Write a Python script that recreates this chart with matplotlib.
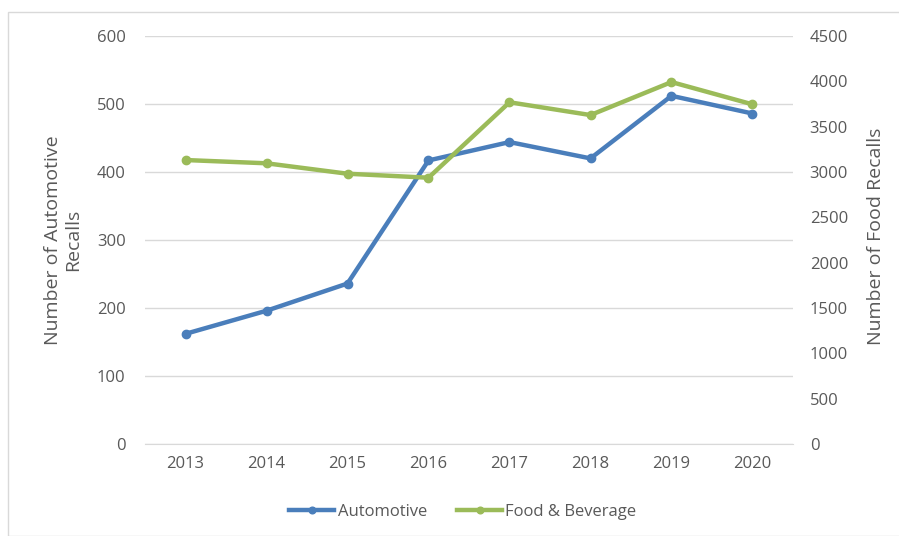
import matplotlib
matplotlib.use("Agg")
import matplotlib.pyplot as plt
from matplotlib.patches import Rectangle

years = ["2013", "2014", "2015", "2016", "2017", "2018", "2019", "2020"]
automotive = [162, 196, 236, 417, 444, 420, 512, 486]
food = [3132, 3096, 2981, 2937, 3769, 3628, 3992, 3746]

plt.rcParams['font.family'] = ['Open Sans', 'DejaVu Sans']
txt = '#595959'
blue = '#4A7EBB'
green = '#9BBB59'

fig = plt.figure(figsize=(8.99, 5.36), dpi=100)
ax = fig.add_axes([145/899, 1-444/536, (793-145)/899, (444-36)/536])
ax2 = ax.twinx()

x = list(range(len(years)))
l1, = ax.plot(x, automotive, color=blue, lw=3.2, marker='o', ms=6, label='Automotive', zorder=3)
l2, = ax2.plot(x, food, color=green, lw=3.2, marker='o', ms=6, label='Food & Beverage', zorder=3)

ax.set_xlim(-0.5, len(years)-0.5)
ax.set_ylim(0, 600)
ax2.set_ylim(0, 4500)
ax.set_yticks(range(0, 601, 100))
ax2.set_yticks(range(0, 4501, 500))
ax.set_xticks(x)
ax.set_xticklabels(years)

ax.grid(axis='y', color='#D9D9D9', lw=1)
ax.set_axisbelow(True)
for a in (ax, ax2):
    for s in a.spines.values():
        s.set_visible(False)
    a.tick_params(length=0, colors=txt, labelsize=12)
ax.spines['bottom'].set_visible(True)
ax.spines['bottom'].set_color('#D9D9D9')
ax.tick_params(axis='y', pad=14)
ax2.tick_params(axis='y', pad=12)
ax.tick_params(axis='x', pad=9)

ax.set_ylabel('Number of Automotive\nRecalls', color=txt, fontsize=14, linespacing=1.15)
ax.yaxis.set_label_coords(-0.0972, 0.5)
ax2.set_ylabel('Number of Food Recalls', color=txt, fontsize=14)
ax2.yaxis.set_label_coords(1.114, 0.51)

fig.legend(handles=[l1, l2], loc='center', bbox_to_anchor=(463/899, 1-512/536), ncol=2,
           frameon=False, fontsize=12, labelcolor=txt, handlelength=2.7, handletextpad=0.2,
           columnspacing=1.8, markerscale=0.8)

fig.patches.append(Rectangle((8/899, 0), 1, 1-12/536, transform=fig.transFigure,
                             fill=False, edgecolor='#D9D9D9', lw=1))

fig.savefig('out.png', dpi=100)
